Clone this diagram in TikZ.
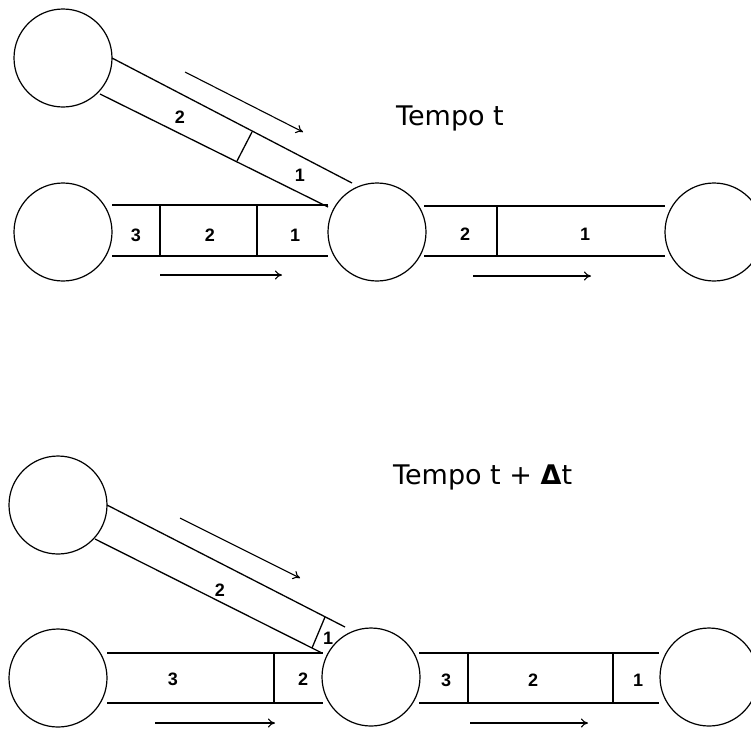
\documentclass[tikz,border=0pt]{standalone}
\usepackage{fontspec}
\usetikzlibrary{arrows.meta}
\setmainfont{DejaVu Sans}
\newfontfamily\digitfont{Liberation Sans}
\begin{document}
\begin{tikzpicture}[x=1pt,y=-1pt,
  tank/.style={circle,draw,line width=1.2pt,minimum size=98pt,inner sep=0pt},
  pipe/.style={line width=1.3pt},
  flow/.style={line width=1.1pt,-{To[length=7pt,width=9pt]}},
  num/.style={font=\digitfont\bfseries\fontsize{18}{18}\selectfont,inner sep=0pt},
  title/.style={font=\fontsize{27}{27}\selectfont,inner sep=0pt,anchor=base west}]
\useasboundingbox (0,0) rectangle (751,729);
\clip (0,0) rectangle (751,729);
% ---------- Tempo t ----------
\node[tank] (A1) at (63,58) {};
\node[tank] (B1) at (63,232) {};
\node[tank] (C1) at (377,232) {};
\node[tank] (D1) at (714,232) {};
\node[title] (T1) at (396,125) {Tempo t};
% left horizontal pipe
\draw[pipe] (112,205) -- (328,205);
\draw[pipe] (112,256) -- (328,256);
\draw[pipe] (160,205) -- (160,256);
\draw[pipe] (257,205) -- (257,256);
\node[num] (h13) at (136,235) {3};
\node[num] (h12) at (210,235) {2};
\node[num] (h11) at (295,235) {1};
\draw[flow] (160,275) -- (282,275);
% right pipe
\draw[pipe] (424,206) -- (665,206);
\draw[pipe] (424,256) -- (665,256);
\draw[pipe] (497,206) -- (497,256);
\node[num] (r12) at (465,234) {2};
\node[num] (r11) at (585,234) {1};
\draw[flow] (473,276) -- (591,276);
% diagonal pipe
\draw[pipe] (112,58) -- (352,183);
\draw[pipe] (100,94) -- (328,207);
\draw[pipe] (252,132) -- (237,161);
\node[num] (d12) at (180,117) {2};
\node[num] (d11) at (300,175) {1};
\draw[flow] (185,72) -- (303,132);
% ---------- Tempo t + Delta t ----------
\node[tank] (A2) at (58,505) {};
\node[tank] (B2) at (58,678) {};
\node[tank] (C2) at (371,677) {};
\node[tank] (D2) at (709,677) {};
\node[title] (T2) at (393,484) {Tempo t + {\bfseries Δ}t};
% left horizontal pipe
\draw[pipe] (107,653) -- (323,653);
\draw[pipe] (107,703) -- (323,703);
\draw[pipe] (274,653) -- (274,703);
\node[num] (h23) at (173,679) {3};
\node[num] (h22) at (303,679) {2};
\draw[flow] (155,723) -- (275,723);
% right pipe
\draw[pipe] (419,653) -- (659,653);
\draw[pipe] (419,703) -- (659,703);
\draw[pipe] (468,653) -- (468,703);
\draw[pipe] (613,653) -- (613,703);
\node[num] (r23) at (446,680) {3};
\node[num] (r22) at (533,680) {2};
\node[num] (r21) at (638,680) {1};
\draw[flow] (470,723) -- (588,723);
% diagonal pipe
\draw[pipe] (107,505) -- (345,627);
\draw[pipe] (95,539) -- (322,653);
\draw[pipe] (325,617) -- (312,648);
\node[num] (d22) at (220,590) {2};
\node[num] (d21) at (328,638) {1};
\draw[flow] (180,518) -- (300,578);
\end{tikzpicture}
\end{document}
